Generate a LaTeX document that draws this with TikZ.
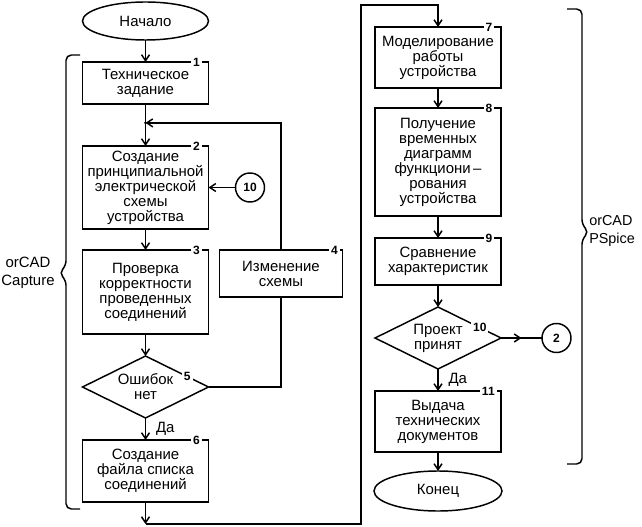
\documentclass[tikz,border=0pt]{standalone}
\usepackage{fontspec}
\setmainfont{Liberation Sans}
\usetikzlibrary{positioning,shapes.geometric,arrows.meta,calc}
\usetikzlibrary{decorations.markings}

\newcommand{\txt}{\fontsize{11.2}{11.25}\selectfont}
\newcommand{\numfont}{\bfseries\fontsize{9}{9}\selectfont}

\tikzset{
  blk/.style={draw, line width=1.1pt, minimum width=94.5pt, align=center, inner sep=2pt, outer sep=0pt, font=\txt},
  term/.style={draw, ellipse, line width=1.1pt, minimum width=94.5pt, minimum height=28.5pt, inner sep=0pt, outer sep=0pt, font=\txt},
  cond/.style={draw, diamond, aspect=2, line width=1.1pt, minimum width=94.5pt, minimum height=46.5pt, inner sep=0pt, outer sep=0pt, align=center, font=\txt},
  conn/.style={draw, circle, line width=1.1pt, minimum size=21.75pt, inner sep=0pt, outer sep=0pt, font=\numfont},
  num/.style={anchor=center, fill=white, inner sep=1.5pt, font=\numfont},
  lbl/.style={right=4pt, font=\txt},
  ln/.style={line width=1.1pt},
  arr/.style={line width=1.1pt, -{Straight Barb[length=4.5pt,width=6pt]}},
  midarr/.style={line width=1.1pt, decoration={markings, mark=at position 0.5 with {\arrow{Straight Barb[length=4.5pt,width=6pt]}}}, postaction={decorate}},
}

\begin{document}
\begin{tikzpicture}[x=0.75pt, y=0.75pt, node distance=16.5pt]  % 1 unit = 1 px of the sketch
    \useasboundingbox (0,0) rectangle (642,-527);

    % orCAD Capture part
    \node (start) [term] at (145.5,-21) {Начало};
    \node (b1) [blk, minimum height=31.5pt, below=of start, label={[num,xshift=-9pt]north east:1}] {Техническое\\задание};
    \node (b2) [blk, minimum height=62.25pt, below=31.5pt of b1, label={[num,xshift=-9pt]north east:2}] {Создание\\принципиальной\\электрической\\схемы\\устройства};
    \node (con10) [conn, right=20.25pt of b2] {10};
    \node (b3) [blk, minimum height=63pt, below=15.75pt of b2, label={[num,xshift=-9pt]north east:3}] {Проверка\\корректности\\проведенных\\соединений};
    \node (b4) [blk, minimum width=92.25pt, minimum height=35.25pt, right=8.25pt of b3.north east, anchor=north west, label={[num,xshift=-6pt]north east:4}] {Изменение\\схемы};
    \node (d5) [cond, below=of b3, label={[num]14:5}] {Ошибок\\нет};
    \node (b6) [blk, minimum height=46.5pt, below=of d5, label={[num,xshift=-9pt]north east:6}] {Создание\\файла списка\\соединений};

    % orCAD PSpice part
    \node (b7) [blk, minimum height=45.75pt, anchor=north, label={[num,xshift=-9pt]north east:7}] at (438,-27) {Моделирование\\работы\\устройства};
    \node (b8) [blk, minimum height=81pt, below=15pt of b7, label={[num,xshift=-9pt]north east:8}] {Получение\\временных\\диаграмм\\функциони\,–\\рования\\устройства};
    \node (b9) [blk, minimum height=35.25pt, below=of b8, label={[num,xshift=-9pt]north east:9}] {Сравнение\\характеристик};
    \node (d10) [cond, below=of b9, label={[num]14:10}] {Проект\\принят};
    \node (con2) [conn, right=30.75pt of d10] {2};
    \node (b11) [blk, minimum height=45.75pt, below=of d10, label={[num,xshift=-9.5pt]north east:11}] {Выдача\\технических\\документов};
    \node (stop) [term, minimum width=96pt, minimum height=30pt, below=14.25pt of b11] {Конец};

    % connectors, left column
    \coordinate (jn) at ($(b1.south)!0.45!(b2.north)$);
    \draw[arr] (start) -- (b1);
    \draw[arr] (b1) -- (b2);
    \draw[arr] (b4.north) |- (jn);
    \fill (jn) circle (1.5);
    \draw[arr] (con10) -- (b2);
    \draw[arr] (b2) -- (b3);
    \draw[arr] (b3) -- (d5);
    \draw[ln] (d5) -| (b4);
    \draw[arr] (d5) -- node[lbl] {Да} (b6);

    % long jump to the right column
    \coordinate (c1) at ($(b6.south)+(0,-22)$);
    \coordinate (c2) at (361,-5);
    \draw[arr] (b6) -- (c1);
    \draw[arr] (c1) -| (c2) -| (b7);

    % connectors, right column
    \draw[arr] (b7) -- (b8);
    \draw[arr] (b8) -- (b9);
    \draw[arr] (b9) -- (d10);
    \draw[midarr] (d10) -- (con2);
    \draw[arr] (d10) -- node[lbl] {Да} (b11);
    \draw[arr] (b11) -- (stop);

    % braces with the tool names
    \draw[ln, rounded corners=4pt] (80,-55) -- (66,-55) -- (66,-266) -- (59,-273) -- (66,-280) -- (66,-509) -- (80,-509);
    \node (cap) [font=\txt, align=center] at (28,-273) {orCAD\\[2.25pt]Capture};
    \draw[ln, rounded corners=4pt] (567,-9) -- (582,-9) -- (582,-225) -- (589,-232) -- (582,-239) -- (582,-464) -- (567,-464);
    \node (psp) [font=\fontsize{10.8}{11.25}\selectfont, align=left, anchor=west, inner sep=0pt] at (589,-231) {orCAD\\[2.25pt]PSpice};
\end{tikzpicture}
\end{document}
